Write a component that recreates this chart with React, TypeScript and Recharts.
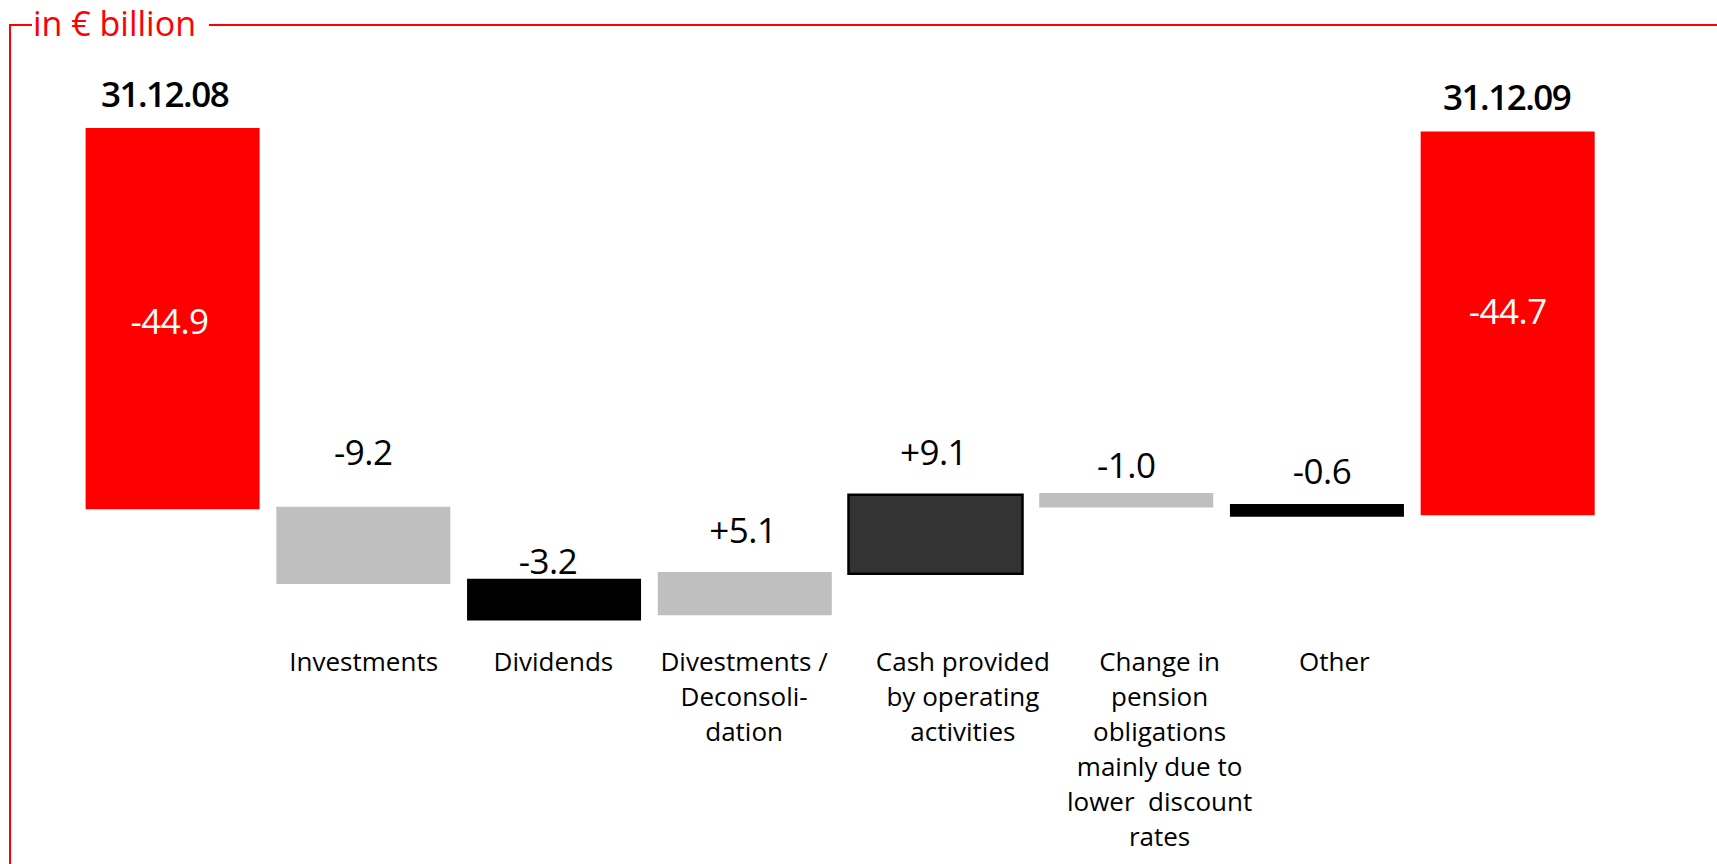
import React from 'react';
import { BarChart, Bar, XAxis, YAxis, Cell, LabelList } from 'recharts';

// categories (line breaks as in the slide)
const categories = [
  '31.12.08',
  'Investments',
  'Dividends',
  'Divestments /\nDeconsoli-\ndation',
  'Cash provided\nby operating\nactivities',
  'Change in\npension\nobligations\nmainly due to\nlower  discount\nrates',
  'Other',
  '31.12.09',
];
const valueLabels = ['-44.9', '-9.2', '-3.2', '+5.1', '+9.1', '-1.0', '-0.6', '-44.7'];
const isTotal = [true, false, false, false, false, false, false, true];
// bar extents in € billion as drawn on the slide (schematic waterfall)
const barTop = [0, -44.6, -53.1, -52.3, -43.2, -43.0, -44.3, -0.4];
const barBottom = [-44.9, -53.7, -58.0, -57.4, -52.5, -44.7, -45.8, -45.6];

const COLORS = ['#ff0000', '#bfbfbf', '#000000', '#bfbfbf', '#333333', '#bfbfbf', '#000000', '#ff0000'];
const RED = '#ff0000';
const FONT = '"Open Sans", sans-serif';

// label placement tweaks (px), to follow the hand-placed text of the slide
const LABEL_GAP = [35, 55, 18, 43, 43, 29, 34, 35];
const LABEL_DX = [-8, 0, -6, -2, -2, 0, 5, -1];
const INNER_DY = [2, 0, 0, 0, 0, 0, 0, -13];
const INNER_DX = [-3, 0, 0, 0, 0, 0, 0, 0];
const TICK_DX = [0, 0, -1, -1, 27, 33, 17, 0];

const data = categories.map((name, i) => ({
  name,
  range: [barBottom[i], barTop[i]],
  label: valueLabels[i],
}));

const ValueLabel = (props: any) => {
  const { x, y, width, height, index } = props;
  const top = Math.min(y, y + height);
  const bottom = Math.max(y, y + height);
  const cx = x + width / 2;
  if (isTotal[index]) {
    return (
      <g>
        <text x={cx + LABEL_DX[index]} y={top - LABEL_GAP[index]} textAnchor="middle" dominantBaseline="central"
          fontFamily={FONT} fontSize={35} fontWeight={600} letterSpacing={-1.5} fill="#000">{categories[index]}</text>
        <text x={cx + INNER_DX[index]} y={(top + bottom) / 2 + INNER_DY[index]} textAnchor="middle" dominantBaseline="central"
          fontFamily={FONT} fontSize={35} fontWeight={500} letterSpacing={-0.5} fill="#fff">{valueLabels[index]}</text>
      </g>
    );
  }
  return (
    <text x={cx + LABEL_DX[index]} y={top - LABEL_GAP[index]} textAnchor="middle" dominantBaseline="central"
      fontFamily={FONT} fontSize={35} fontWeight={500} letterSpacing={-0.5} fill="#000">{valueLabels[index]}</text>
  );
};

const CategoryTick = (props: any) => {
  const { x, y, payload } = props;
  const i = payload.index;
  if (isTotal[i]) return null;
  const lines = String(payload.value).split('\n');
  return (
    <text x={x + TICK_DX[i]} y={y} textAnchor="middle" fontFamily={FONT} fontSize={26} fill="#000">
      {lines.map((l, k) => (
        <tspan key={k} x={x + TICK_DX[i]} dy={k === 0 ? 34 : 35} style={{ whiteSpace: 'pre' }}>{l}</tspan>
      ))}
    </text>
  );
};

export default function App() {
  return (
    <div style={{ position: 'absolute', left: 0, top: 0, width: 1717, height: 864, background: '#fff', overflow: 'hidden' }}>
      {/* red frame with caption */}
      <div style={{ position: 'absolute', left: 9, top: 24, width: 2, height: 840, background: RED }} />
      <div style={{ position: 'absolute', left: 9, top: 24, width: 23, height: 2, background: RED }} />
      <div style={{ position: 'absolute', left: 209, top: 24, width: 1508, height: 2, background: RED }} />
      <div style={{ position: 'absolute', left: 33, top: 0, fontFamily: FONT, fontSize: 34, lineHeight: '46px', color: RED }}>
        in € billion
      </div>
      <div style={{ position: 'absolute', left: 0, top: 0 }}>
        <BarChart width={1717} height={864} data={data} margin={{ top: 128, right: 113.6, left: 77.6, bottom: 26.6 }}>
          <XAxis dataKey="name" axisLine={false} tickLine={false} tickSize={0} tickMargin={0} height={200}
            interval={0} tick={<CategoryTick />} />
          <YAxis hide type="number" domain={[-60, 0]} allowDataOverflow />
          <Bar dataKey="range" barSize={174} isAnimationActive={false}>
            {data.map((d, i) => (
              <Cell key={`cell-${i}`} fill={COLORS[i]} stroke={i === 4 ? '#000' : 'none'} strokeWidth={i === 4 ? 2.5 : 0} />
            ))}
            <LabelList dataKey="label" content={<ValueLabel />} />
          </Bar>
        </BarChart>
      </div>
    </div>
  );
}
